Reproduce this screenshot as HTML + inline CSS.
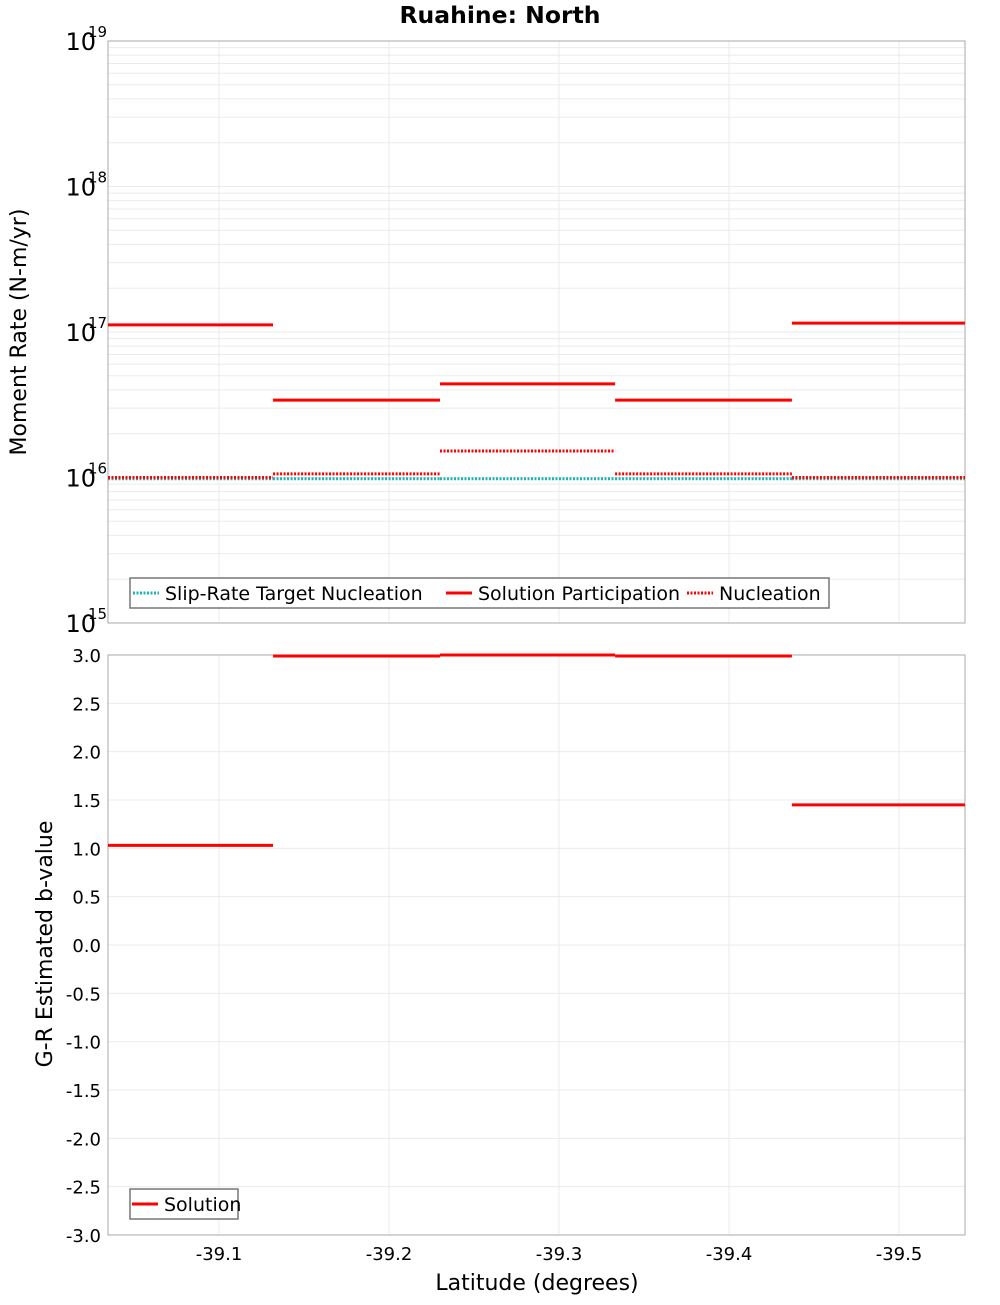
<!DOCTYPE html>
<html><head><meta charset="utf-8"><style>
body{margin:0;background:#fff}
svg{font-family:"DejaVu Sans","Liberation Sans",sans-serif}
</style></head><body>
<svg id="chart" width="1000" height="1300" xmlns="http://www.w3.org/2000/svg">
<text x="500" y="23" text-anchor="middle" font-size="23.5" font-weight="bold">Ruahine: North</text>
<g id="topPlot"></g>
<g id="botPlot"></g>
<text transform="translate(26,332) rotate(-90)" text-anchor="middle" font-size="22">Moment Rate (N-m/yr)</text>
<text transform="translate(52,944) rotate(-90)" text-anchor="middle" font-size="22">G-R Estimated b-value</text>
<text x="537" y="1290" text-anchor="middle" font-size="22">Latitude (degrees)</text>
</svg>
<script>
const segEdges = [-39.0347, -39.1318, -39.23, -39.333, -39.437, -39.5388];
const participation = [1.12e17, 3.4e16, 4.4e16, 3.4e16, 1.15e17];
const nucleation = [1.0e16, 1.06e16, 1.52e16, 1.06e16, 1.0e16];
const target = [0.98e16, 0.98e16, 0.98e16, 0.98e16, 0.98e16];
const bValues = [1.03, 2.99, 3.0, 2.99, 1.45];
const xTicks = [-39.1, -39.2, -39.3, -39.4, -39.5];
const xTickLabels = ["-39.1", "-39.2", "-39.3", "-39.4", "-39.5"];
const logDecades = [15, 16, 17, 18, 19];
const bTicks = [-3, -2.5, -2, -1.5, -1, -0.5, 0, 0.5, 1, 1.5, 2, 2.5, 3];

const NS = "http://www.w3.org/2000/svg";
const L = 108, R = 965, T1 = 41, B1 = 623, T2 = 655, B2 = 1235;
const xS = lat => 219 + (-39.1 - lat) / 0.1 * 170;
const yLog = v => B1 - (Math.log10(v) - 15) / 4 * (B1 - T1);
const yB = v => B2 - (v + 3) / 6 * (B2 - T2);
function mk(tag, attrs, parent) { const e = document.createElementNS(NS, tag); for (const k in attrs) e.setAttribute(k, attrs[k]); parent.appendChild(e); return e; }
const topG = document.getElementById('topPlot'), botG = document.getElementById('botPlot');

for (let d = 15; d < 19; d++) for (let m = 1; m < 10; m++) {
  const y = yLog(m * Math.pow(10, d));
  const g = mk('line', {x1: L, x2: R, y1: y, y2: y, stroke: '#ebebeb', 'stroke-width': 1}, topG);
  
  
}
xTicks.forEach(t => {
  [[topG, T1, B1], [botG, T2, B2]].forEach(([p, a, b]) => {
    const g = mk('line', {x1: xS(t), x2: xS(t), y1: a, y2: b, stroke: '#ebebeb'}, p);
    
    
  });
});
bTicks.forEach(t => {
  const g = mk('line', {x1: L, x2: R, y1: yB(t), y2: yB(t), stroke: '#ebebeb'}, botG);
  
  
  const tx = mk('text', {x: 101, y: yB(t) + 7, 'text-anchor': 'end', 'font-size': 18}, botG);
  tx.textContent = t.toFixed(1);
  
  
});
logDecades.forEach(d => {
  const y = yLog(Math.pow(10, d));
  const tx = mk('text', {x: 96, y: y + 9, 'text-anchor': 'end', 'font-size': 24}, topG);
  tx.textContent = '10';
  
  
  const sp = mk('text', {x: 88, y: y - 4, 'font-size': 15}, topG);
  sp.textContent = String(d);
  
  
});
xTicks.forEach((t, i) => {
  const tx = mk('text', {x: xS(t), y: 1260, 'text-anchor': 'middle', 'font-size': 18}, botG);
  tx.textContent = xTickLabels[i];
  
  
});
[[topG, T1, B1], [botG, T2, B2]].forEach(([p, a, b]) => {
  const r = mk('rect', {x: L, y: a, width: R - L, height: b - a, fill: 'none', stroke: '#aaa'}, p);
  
  
});
function segs(vals, yf, parent, color, dash, name) {
  vals.forEach((v, i) => {
    const ln = mk('line', {x1: xS(segEdges[i]), x2: xS(segEdges[i + 1]), y1: yf(v), y2: yf(v), stroke: color, 'stroke-width': 3}, parent);
    if (dash) ln.setAttribute('stroke-dasharray', '2,1.5');
    
    
  });
}
segs(target, yLog, topG, '#19b4b4', true, 'target-nucleation-segment');
segs(nucleation, yLog, topG, '#ff0000', true, 'nucleation-segment');
segs(participation, yLog, topG, '#ff0000', false, 'participation-segment');
segs(bValues, yB, botG, '#ff0000', false, 'b-value-segment');
function legend(parent, x, y, w, items, name) {
  const g = mk('g', {}, parent);
  
  
  mk('rect', {x: x, y: y, width: w, height: 30, fill: '#fff', stroke: '#777', 'stroke-width': 1.5}, g);
  items.forEach(it => {
    const ln = mk('line', {x1: it.x, x2: it.x + 26, y1: y + 15, y2: y + 15, stroke: it.c, 'stroke-width': 3}, g);
    if (it.d) ln.setAttribute('stroke-dasharray', '2,1.5');
    
    
    const t = mk('text', {x: it.x + 32, y: y + 22, 'font-size': 19}, g);
    t.textContent = it.t;
    
    
  });
}
legend(topG, 130, 578, 699, [
  {x: 133, c: '#19b4b4', d: true, t: 'Slip-Rate Target Nucleation'},
  {x: 446, c: '#ff0000', d: false, t: 'Solution Participation'},
  {x: 687, c: '#ff0000', d: true, t: 'Nucleation'}], 'legend-moment');
legend(botG, 130, 1189, 108, [{x: 132, c: '#ff0000', d: false, t: 'Solution'}], 'legend-bvalue');
</script>
</body></html>
